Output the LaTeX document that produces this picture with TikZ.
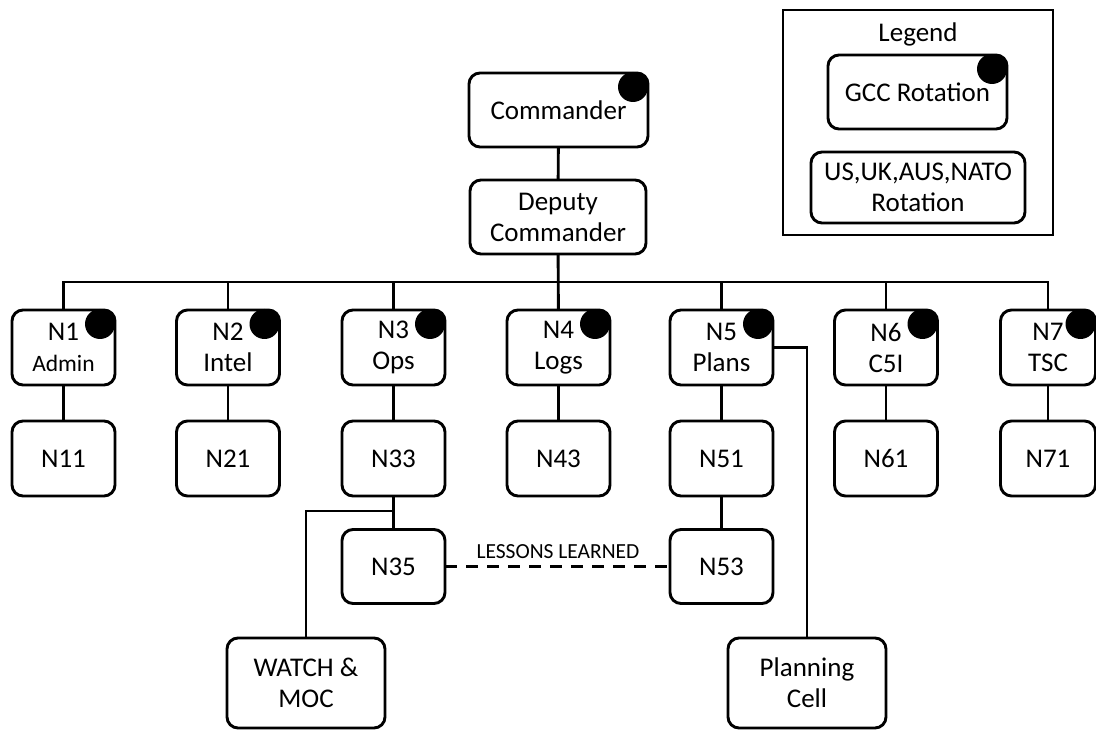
\documentclass[tikz,border=0pt]{standalone}
\usepackage{fontspec}
\setmainfont{Carlito}
\begin{document}
\begin{tikzpicture}[x=1pt,y=-1pt,
  box/.style={draw, rounded corners=11pt, line width=2.9pt, fill=white, align=center,
    inner sep=0pt, outer sep=0pt, font=\fontsize{27}{31}\selectfont},
  nbox/.style={box, minimum width=103pt, minimum height=75pt},
  wide/.style={box, minimum width=158pt, minimum height=90pt},
  link/.style={line width=2.9pt},
  lessons/.style={line width=2.9pt, dash pattern=on 12pt off 9pt},
  badge/.style={fill=black}]
\useasboundingbox (0,0) rectangle (1096,730);

% top
\node[box, minimum width=179pt, minimum height=74pt] (cmd) at (558.5,110) {\raisebox{-4pt}{Commander}};
\node[box, minimum width=176pt, minimum height=74pt] (dep) at (558,217) {Deputy\\Commander};

% N row
\node[nbox] (n1) at (63.5,347.5) {N1\\{\fontsize{23.5}{31}\selectfont Admin}};
\node[nbox] (n2) at (228,347.5) {N2\\Intel};
\node[nbox] (n3) at (393.5,347.5) {N3\\Ops};
\node[nbox] (n4) at (558.5,347.5) {N4\\Logs};
\node[nbox] (n5) at (721.5,347.5) {N5\\Plans};
\node[nbox] (n6) at (886,347.5) {N6\\C5I};
\node[nbox, minimum width=95pt] (n7) at (1048,347.5) {N7\\TSC};

% second row
\node[nbox] (n11) at (63.5,458.5) {N11};
\node[nbox] (n21) at (228,458.5) {N21};
\node[nbox] (n33) at (393.5,458.5) {N33};
\node[nbox] (n43) at (558.5,458.5) {N43};
\node[nbox] (n51) at (721.5,458.5) {N51};
\node[nbox] (n61) at (886,458.5) {N61};
\node[nbox, minimum width=95pt] (n71) at (1048,458.5) {N71};

% third row
\node[nbox, minimum height=74pt] (n35) at (393.5,566.5) {N35};
\node[nbox, minimum height=74pt] (n53) at (721.5,566.5) {N53};

% bottom
\node[wide] (watch) at (306,683) {WATCH \&\\MOC};
\node[wide] (plan) at (807,683) {Planning\\Cell};

% badges
\foreach \n in {cmd,n1,n2,n3,n4,n5,n6,n7}
  \fill[badge] ([xshift=-15pt,yshift=-14pt]\n.north east) circle (15pt);

% connectors
\coordinate (bus) at (558,282);
\coordinate (br) at (393.5,511);
\draw[link] (cmd) -- (dep);
\draw[link] (dep) -- (n4);
\draw[link] (n1.north) -- (n1.north |- bus) -- (n7.north |- bus) -- (n7.north);
\foreach \n in {n2,n3,n5,n6}
  \draw[link] (\n.north) -- (\n.north |- bus);
\foreach \a/\b in {n1/n11,n2/n21,n3/n33,n4/n43,n5/n51,n6/n61,n7/n71,n33/n35,n51/n53}
  \draw[link] (\a) -- (\b);
\draw[link] (br) -| (watch.north);
\draw[link] (n5.east) -| (plan.north);
\draw[lessons] (n35.east) -- (n53.west);
\node[font=\fontsize{21.5}{24}\selectfont, inner sep=0pt] (ll) at (558,552) {LESSONS LEARNED};

% legend
\node[draw, line width=2.6pt, minimum width=270pt, minimum height=225pt, inner sep=0pt] (legend) at (918,122.5) {};
\node[font=\fontsize{27}{31}\selectfont, inner sep=0pt] (legtitle) at (918,34) {Legend};
\node[box, minimum width=179pt, minimum height=74pt] (gcc) at (917.5,92) {GCC Rotation};
\fill[badge] ([xshift=-15pt,yshift=-14pt]gcc.north east) circle (15pt);
\node[box, minimum width=214pt, minimum height=71pt] (us) at (918,187.5) {US,UK,AUS,NATO\\Rotation};
\end{tikzpicture}
\end{document}
